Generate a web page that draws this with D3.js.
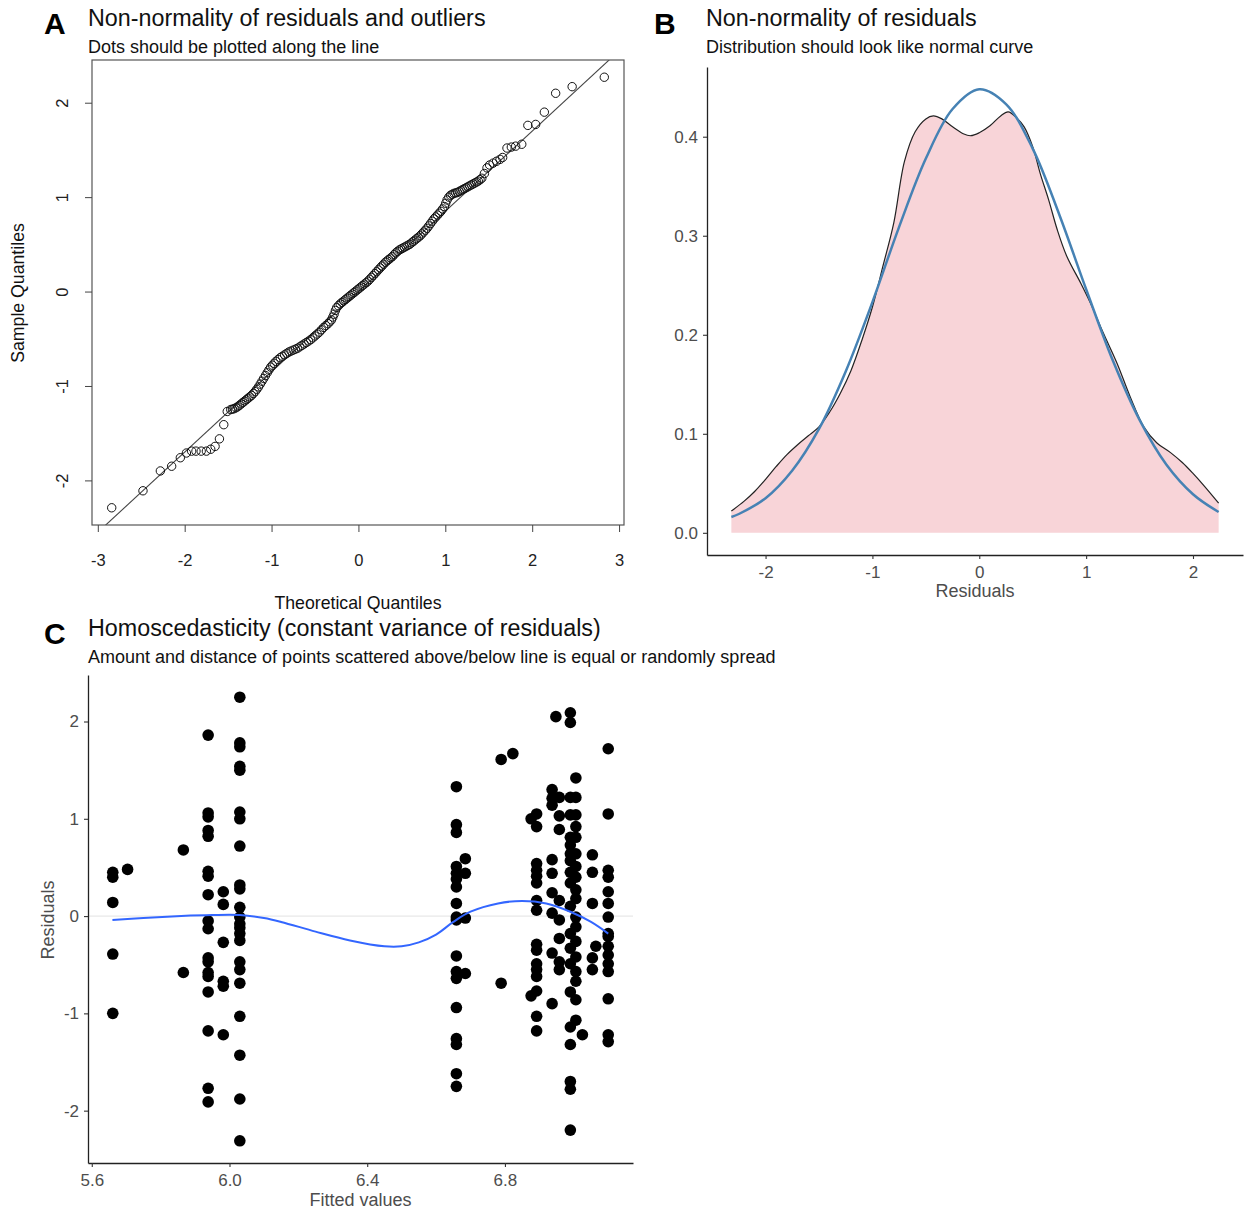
<!DOCTYPE html>
<html>
<head>
<meta charset="utf-8">
<script src="https://cdn.jsdelivr.net/npm/d3@7"></script>
<style>
  body { margin: 0; background: #fff; }
  svg { display: block; font-family: "Liberation Sans", Arial, Helvetica, sans-serif; }
</style>
</head>
<body>
<svg id="chart" width="1244" height="1213"></svg>
<script>
// ---------- panel A: normal Q-Q plot ----------
const qqTheo = [-2.84,-2.48,-2.28,-2.15,-2.05,-1.98,-1.92,-1.87,-1.81,-1.75,-1.70,-1.65,-1.60,-1.55,-1.51,
  -1.47,-1.45,-1.43,-1.41,-1.39,-1.37,-1.35,-1.33,-1.31,-1.29,-1.27,-1.25,-1.23,-1.21,-1.19,-1.17,-1.15,
  -1.13,-1.11,-1.09,-1.07,-1.05,-1.03,-1.01,-0.99,-0.97,-0.95,-0.925,-0.90,-0.875,-0.85,-0.825,-0.80,
  -0.775,-0.75,-0.725,-0.70,-0.675,-0.65,-0.625,-0.60,-0.575,-0.55,-0.525,-0.50,-0.475,-0.45,-0.425,-0.40,
  -0.375,-0.35,-0.33,-0.31,-0.295,-0.28,-0.265,-0.25,-0.23,-0.21,-0.19,-0.17,-0.15,-0.13,-0.11,-0.09,
  -0.07,-0.05,-0.03,-0.01,0.01,0.03,0.05,0.07,0.09,0.11,0.13,0.15,0.17,0.19,0.21,0.23,0.25,0.27,0.29,
  0.31,0.33,0.35,0.37,0.39,0.41,0.43,0.45,0.47,0.49,0.51,0.53,0.55,0.57,0.59,0.61,0.63,0.65,0.67,0.69,
  0.71,0.73,0.75,0.77,0.79,0.81,0.83,0.85,0.87,0.89,0.91,0.93,0.95,0.97,0.99,1.005,1.02,1.04,1.06,1.08,
  1.10,1.12,1.14,1.16,1.18,1.20,1.22,1.24,1.26,1.28,1.30,1.32,1.34,1.36,1.38,1.40,1.42,1.45,1.48,1.51,
  1.55,1.59,1.63,1.66,1.71,1.76,1.81,1.88,1.95,2.04,2.14,2.27,2.46,2.83];
const qqSample = [-2.29,-2.11,-1.90,-1.85,-1.76,-1.71,-1.69,-1.69,-1.69,-1.69,-1.67,-1.64,-1.56,-1.41,-1.27,
  -1.25,-1.245,-1.24,-1.23,-1.22,-1.205,-1.19,-1.175,-1.16,-1.145,-1.13,-1.115,-1.10,-1.08,-1.06,-1.035,-1.01,
  -0.98,-0.95,-0.92,-0.89,-0.86,-0.83,-0.80,-0.78,-0.76,-0.74,-0.72,-0.70,-0.685,-0.67,-0.655,-0.64,
  -0.63,-0.62,-0.61,-0.60,-0.585,-0.57,-0.555,-0.54,-0.525,-0.51,-0.49,-0.47,-0.45,-0.43,-0.405,-0.38,
  -0.36,-0.34,-0.32,-0.30,-0.27,-0.24,-0.20,-0.17,-0.15,-0.13,-0.115,-0.10,-0.085,-0.07,-0.055,-0.04,
  -0.025,-0.01,0.005,0.02,0.035,0.05,0.065,0.08,0.095,0.11,0.13,0.15,0.17,0.19,0.21,0.23,0.25,0.27,0.29,
  0.31,0.325,0.34,0.355,0.37,0.39,0.41,0.425,0.44,0.45,0.46,0.47,0.48,0.49,0.50,0.515,0.53,0.545,0.56,0.575,
  0.59,0.61,0.63,0.65,0.67,0.695,0.72,0.745,0.77,0.79,0.81,0.83,0.85,0.875,0.90,0.935,0.97,1.00,1.02,1.03,
  1.04,1.045,1.05,1.06,1.07,1.08,1.09,1.10,1.11,1.12,1.13,1.14,1.15,1.16,1.17,1.185,1.20,1.25,1.31,1.34,
  1.36,1.38,1.40,1.42,1.52,1.53,1.54,1.56,1.76,1.77,1.90,2.10,2.17,2.27];
const qqSlope = 0.85;
const qqIntercept = 0.0;
const qqXTicks = [-3, -2, -1, 0, 1, 2, 3];
const qqYTicks = [-2, -1, 0, 1, 2];

// ---------- panel B: density of residuals vs normal curve ----------
const densX = [-2.32,-2.2,-2.1,-2.0,-1.9,-1.8,-1.7,-1.6,-1.5,-1.4,-1.3,-1.2,-1.1,-1.0,-0.9,-0.8,-0.7,-0.6,
  -0.5,-0.43,-0.35,-0.25,-0.15,-0.08,0.0,0.1,0.2,0.27,0.35,0.42,0.5,0.57,0.65,0.73,0.82,0.95,1.04,1.16,
  1.29,1.41,1.54,1.66,1.79,1.9,2.0,2.1,2.24];
const densY = [0.022,0.032,0.042,0.054,0.067,0.079,0.089,0.098,0.107,0.122,0.141,0.164,0.194,0.228,0.270,
  0.313,0.375,0.405,0.418,0.421,0.418,0.410,0.403,0.401,0.404,0.411,0.421,0.425,0.419,0.410,0.390,0.363,
  0.336,0.306,0.279,0.252,0.232,0.202,0.171,0.138,0.107,0.091,0.081,0.071,0.060,0.048,0.030];
const normX = [-2.32,-2.25,-2.0,-1.75,-1.5,-1.25,-1.0,-0.75,-0.5,-0.25,0,0.25,0.5,0.75,1.0,1.25,1.5,1.75,2.0,2.24];
const normY = [0.016,0.019,0.035,0.063,0.105,0.163,0.233,0.309,0.378,0.428,0.448,0.433,0.388,0.321,0.246,
  0.174,0.114,0.069,0.039,0.021];
const densXTicks = [-2, -1, 0, 1, 2];
const densYTicks = [0, 0.1, 0.2, 0.3, 0.4];

// ---------- panel C: residuals vs fitted ----------
const fittedGroups = [5.661, 5.704, 5.866, 5.938, 5.982, 6.030, 6.659, 6.685, 6.789, 6.823, 6.876, 6.892,
  6.937, 6.948, 6.958, 6.990, 7.006, 7.025, 7.054, 7.064, 7.100];
const residGroups = [
  [0.45, 0.40, 0.14, -0.39, -1.00],
  [0.48],
  [0.68, -0.58],
  [1.86, 1.06, 1.02, 0.88, 0.82, 0.46, 0.41, 0.22, -0.05, -0.13, -0.43, -0.47, -0.58, -0.62, -0.78, -1.18, -1.77, -1.91],
  [0.25, 0.12, -0.27, -0.67, -0.72, -1.22],
  [2.25, 1.78, 1.74, 1.54, 1.50, 1.07, 1.00, 0.72, 0.32, 0.28, 0.09, -0.01, -0.08, -0.12, -0.18, -0.25, -0.47, -0.55, -0.69, -1.03, -1.43, -1.88, -2.31],
  [1.33, 0.94, 0.86, 0.51, 0.44, 0.38, 0.30, 0.13, -0.01, -0.04, -0.41, -0.57, -0.64, -0.94, -1.26, -1.32, -1.62, -1.75],
  [0.59, 0.44, -0.02, -0.59],
  [1.61, -0.69],
  [1.67],
  [1.00, -0.82],
  [1.05, 0.92, 0.54, 0.47, 0.41, 0.34, 0.16, 0.06, -0.29, -0.35, -0.49, -0.55, -0.62, -0.77, -1.03, -1.18],
  [1.30, 1.21, 1.14, 0.58, 0.44, 0.24, 0.03, -0.38, -0.90],
  [2.05],
  [1.22, 1.03, 0.89, 0.16, -0.04, -0.23, -0.47, -0.55],
  [2.09, 1.99, 1.22, 1.04, 0.81, 0.73, 0.64, 0.57, 0.45, 0.34, 0.10, -0.18, -0.33, -0.49, -0.78, -1.14, -1.32, -1.70, -1.78, -2.20],
  [1.42, 1.22, 1.04, 0.92, 0.81, 0.64, 0.51, 0.40, 0.27, 0.18, -0.01, -0.11, -0.26, -0.42, -0.57, -0.67, -0.86, -1.07],
  [-1.22],
  [0.63, 0.45, 0.13, -0.43, -0.55],
  [-0.31],
  [1.72, 1.05, 0.47, 0.40, 0.25, 0.13, -0.01, -0.18, -0.21, -0.31, -0.40, -0.49, -0.57, -0.85, -1.22, -1.29]
];
const smoothX = [5.66, 5.75, 5.86, 5.95, 6.03, 6.10, 6.15, 6.25, 6.35, 6.45, 6.50, 6.55, 6.60, 6.65, 6.70,
  6.78, 6.85, 6.92, 6.99, 7.05, 7.10];
const smoothY = [-0.04, -0.02, 0.0, 0.01, 0.01, -0.02, -0.06, -0.16, -0.25, -0.31, -0.31, -0.27, -0.19,
  -0.06, 0.045, 0.13, 0.155, 0.13, 0.045, -0.06, -0.18];
const fitXTicks = [5.6, 6.0, 6.4, 6.8];
const fitYTicks = [-2, -1, 0, 1, 2];

const svg = d3.select("#chart");
const greyText = "#4d4d4d";

function padded(ext, f){
  const r = ext[1] - ext[0];
  return [ext[0] - r * f, ext[1] + r * f];
}

function header(x, letterX, base, letter, title, subtitle){
  svg.append("text").attr("x", letterX).attr("y", base + 8)
    .attr("font-size", "30px").attr("font-weight", "bold").attr("fill", "#000").text(letter);
  svg.append("text").attr("x", x).attr("y", base)
    .attr("font-size", "23.3px").attr("fill", "#111").text(title);
  svg.append("text").attr("x", x).attr("y", base + 27)
    .attr("font-size", "18px").attr("fill", "#111").text(subtitle);
}

// ================= A =================
const A = { left: 92, right: 624, top: 60, bottom: 525 };
const xA = d3.scaleLinear().domain(padded(d3.extent(qqTheo), 0.04)).range([A.left, A.right]);
const yA = d3.scaleLinear().domain(padded(d3.extent(qqSample), 0.04)).range([A.bottom, A.top]);
const gA = svg.append("g");

gA.append("clipPath").attr("id", "clipA")
  .append("rect").attr("x", A.left).attr("y", A.top)
  .attr("width", A.right - A.left).attr("height", A.bottom - A.top);

const [ax0, ax1] = xA.domain();
gA.append("line")
  .attr("clip-path", "url(#clipA)")
  .attr("x1", xA(ax0 - 1)).attr("y1", yA(qqIntercept + qqSlope * (ax0 - 1)))
  .attr("x2", xA(ax1 + 1)).attr("y2", yA(qqIntercept + qqSlope * (ax1 + 1)))
  .attr("stroke", "#444").attr("stroke-width", 1.1);

gA.selectAll(".qq")
  .data(qqTheo.map((t, i) => [t, qqSample[i]]))
  .join("circle")
  .attr("class", "qq")
  .attr("cx", d => xA(d[0]))
  .attr("cy", d => yA(d[1]))
  .attr("r", 4.2)
  .attr("fill", "none")
  .attr("stroke", "#111")
  .attr("stroke-width", 1);

gA.append("rect")
  .attr("x", A.left).attr("y", A.top)
  .attr("width", A.right - A.left).attr("height", A.bottom - A.top)
  .attr("fill", "none").attr("stroke", "#555").attr("stroke-width", 1.2);

const axA = gA.append("g")
  .attr("transform", `translate(0,${A.bottom})`)
  .call(d3.axisBottom(xA).tickValues(qqXTicks).tickFormat(d => String(d)).tickSize(7).tickPadding(22).tickSizeOuter(0));
axA.select(".domain").remove();
axA.selectAll("line").attr("stroke", "#444");
axA.selectAll("text").attr("font-size", "16.5px").attr("fill", "#222").attr("font-family", null);

const ayA = gA.append("g")
  .attr("transform", `translate(${A.left},0)`)
  .call(d3.axisLeft(yA).tickValues(qqYTicks).tickFormat(d => String(d)).tickSize(7).tickSizeOuter(0));
ayA.select(".domain").remove();
ayA.selectAll("line").attr("stroke", "#444");
ayA.selectAll("text")
  .attr("font-size", "16.5px").attr("fill", "#222").attr("font-family", null)
  .attr("x", null).attr("dy", "0.35em").attr("text-anchor", "middle")
  .attr("transform", "translate(-30,0) rotate(-90)");

gA.append("text").attr("x", 358).attr("y", 609)
  .attr("text-anchor", "middle").attr("font-size", "17.7px").attr("fill", "#111")
  .text("Theoretical Quantiles");
gA.append("text").attr("transform", "translate(18,293) rotate(-90)")
  .attr("dy", "0.35em").attr("text-anchor", "middle").attr("font-size", "17.7px").attr("fill", "#111")
  .text("Sample Quantiles");

header(88, 44, 26, "A", "Non-normality of residuals and outliers", "Dots should be plotted along the line");

// ================= B =================
const B = { left: 707, right: 1243, top: 67, bottom: 555 };
const xB = d3.scaleLinear().domain(padded(d3.extent(densX), 0.05)).range([B.left, B.right]);
const yB = d3.scaleLinear()
  .domain(padded([0, d3.max(densY.concat(normY))], 0.05))
  .range([B.bottom, B.top]);
const gB = svg.append("g");

const densPts = densX.map((x, i) => [x, densY[i]]);
const normPts = normX.map((x, i) => [x, normY[i]]);

gB.append("path")
  .datum(densPts)
  .attr("fill", "#f8d4d8")
  .attr("d", d3.area().x(d => xB(d[0])).y0(yB(0)).y1(d => yB(d[1])).curve(d3.curveCatmullRom));

gB.append("path")
  .datum(densPts)
  .attr("fill", "none").attr("stroke", "#222").attr("stroke-width", 1.2)
  .attr("d", d3.line().x(d => xB(d[0])).y(d => yB(d[1])).curve(d3.curveCatmullRom));

gB.append("path")
  .datum(normPts)
  .attr("fill", "none").attr("stroke", "#4682b4").attr("stroke-width", 2.5)
  .attr("d", d3.line().x(d => xB(d[0])).y(d => yB(d[1])).curve(d3.curveCatmullRom));

function styleGG(g){
  g.select(".domain").attr("stroke", "#222").attr("stroke-width", 1.3);
  g.selectAll(".tick line").attr("stroke", "#333").attr("stroke-width", 1.1);
  g.selectAll("text").attr("font-size", "17px").attr("fill", greyText).attr("font-family", null);
}

gB.append("g")
  .attr("transform", `translate(0,${B.bottom})`)
  .call(d3.axisBottom(xB).tickValues(densXTicks).tickFormat(d => String(d)).tickSize(4).tickPadding(7).tickSizeOuter(0))
  .call(styleGG);
gB.append("g")
  .attr("transform", `translate(${B.left},0)`)
  .call(d3.axisLeft(yB).tickValues(densYTicks).tickFormat(d => d.toFixed(1)).tickSize(4).tickPadding(5).tickSizeOuter(0))
  .call(styleGG);

gB.append("text").attr("x", (B.left + B.right) / 2).attr("y", 597)
  .attr("text-anchor", "middle").attr("font-size", "18px").attr("fill", greyText)
  .text("Residuals");

header(706, 654, 26, "B", "Non-normality of residuals", "Distribution should look like normal curve");

// ================= C =================
const C = { left: 88, right: 633, top: 675, bottom: 1163 };
const fitPts = [];
fittedGroups.forEach((f, i) => residGroups[i].forEach(r => fitPts.push([f, r])));

const xC = d3.scaleLinear().domain(padded(d3.extent(fitPts, d => d[0]), 0.05)).range([C.left, C.right]);
const yC = d3.scaleLinear().domain(padded(d3.extent(fitPts, d => d[1]), 0.05)).range([C.bottom, C.top]);
const gC = svg.append("g");

gC.append("line")
  .attr("x1", C.left).attr("x2", C.right)
  .attr("y1", yC(0)).attr("y2", yC(0))
  .attr("stroke", "#e8e8e8").attr("stroke-width", 1.2);

gC.selectAll(".pt")
  .data(fitPts)
  .join("circle")
  .attr("class", "pt")
  .attr("cx", d => xC(d[0]))
  .attr("cy", d => yC(d[1]))
  .attr("r", 5.8)
  .attr("fill", "#000");

gC.append("path")
  .datum(smoothX.map((x, i) => [x, smoothY[i]]))
  .attr("fill", "none").attr("stroke", "#3366ff").attr("stroke-width", 2)
  .attr("d", d3.line().x(d => xC(d[0])).y(d => yC(d[1])).curve(d3.curveCatmullRom));

gC.append("g")
  .attr("transform", `translate(0,${C.bottom})`)
  .call(d3.axisBottom(xC).tickValues(fitXTicks).tickFormat(d => d.toFixed(1)).tickSize(4).tickPadding(7).tickSizeOuter(0))
  .call(styleGG);
gC.append("g")
  .attr("transform", `translate(${C.left},0)`)
  .call(d3.axisLeft(yC).tickValues(fitYTicks).tickFormat(d => String(d)).tickSize(4).tickPadding(5).tickSizeOuter(0))
  .call(styleGG);

gC.append("text").attr("x", (C.left + C.right) / 2).attr("y", 1206)
  .attr("text-anchor", "middle").attr("font-size", "18px").attr("fill", greyText)
  .text("Fitted values");
gC.append("text").attr("transform", "translate(48,920) rotate(-90)")
  .attr("dy", "0.35em").attr("text-anchor", "middle").attr("font-size", "18px").attr("fill", greyText)
  .text("Residuals");

header(88, 44, 636, "C", "Homoscedasticity (constant variance of residuals)",
  "Amount and distance of points scattered above/below line is equal or randomly spread");
</script>
</body>
</html>
